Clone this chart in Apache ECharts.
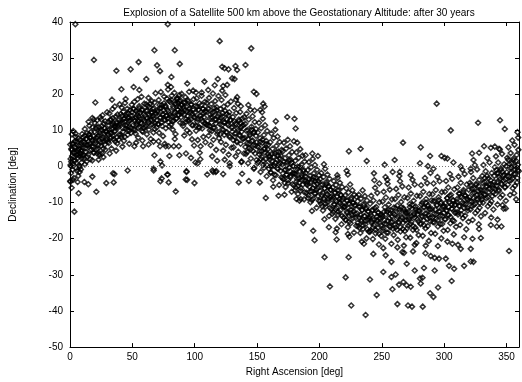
<!DOCTYPE html>
<html>
<head>
<meta charset="utf-8">
<title>Explosion of a Satellite</title>
<script src="https://cdn.jsdelivr.net/npm/echarts@6/dist/echarts.min.js"></script>
<style>
  html, body { margin: 0; padding: 0; background: #fff; }
  #chart { width: 522px; height: 382px; }
</style>
</head>
<body>
<div id="chart"></div>
<script>
// [right ascension deg, declination deg] in four quarters
var ra000to090 = [
    [0.5,2.1],[1.2,4.6],[0.8,-1.8],[1.9,6.3],[2.4,0.7],[2.8,3.9],[3.1,-3.2],[3.6,5.4],[4.0,1.6],[4.4,8.2],[4.9,-0.5],[5.3,3.1],[5.8,6.8],[6.2,2.4],[6.6,-2.6],[7.1,4.9],[7.5,0.2],[8.0,7.4],[8.4,3.6],[8.9,5.8],[9.3,1.1],[9.7,9.0],[0.3,-4.2],[1.5,8.9],[2.0,-0.9],[3.3,2.7],[4.7,5.1],[5.6,-1.2],[6.9,7.9],[8.7,-0.8],[9.5,4.4],[0.2,6.1],[2.6,9.8],[7.8,2.9],[1.0,1.3],[5.0,4.0],[9.0,6.5],[3.8,7.0],
    [4.3,39.4],[4.5,9.1],[0.2,-4.0],[2.4,-3.7],[1.3,-5.9],[6.1,-4.3],[6.9,-7.4],[3.5,-12.5],[7.7,-1.5],[0.8,0.1],[8.3,3.6],[10.4,2.9],
    [10.2,5.2],[10.6,8.1],[11.1,2.3],[11.5,6.7],[11.9,10.4],[12.4,4.0],[12.8,7.6],[13.3,1.4],[13.7,9.2],[14.1,5.9],[14.6,3.3],[15.0,8.7],[15.5,11.3],[15.9,6.2],[16.3,2.0],[16.8,9.6],[17.2,4.7],[17.6,7.3],[18.1,10.9],[18.5,5.5],[19.0,8.4],[19.4,3.8],[19.8,12.1],[12.0,0.6],[14.9,12.4],[17.9,1.7],[13.0,6.0],[16.0,7.9],
    [14.7,-4.9],[11.5,-4.3],[17.9,-2.8],[19.2,29.5],[20.3,17.7],[17.9,13.4],[19.0,13.0],
    [20.3,7.1],[20.8,10.5],[21.2,4.6],[21.7,12.8],[22.1,8.3],[22.6,5.9],[23.0,11.0],[23.5,3.2],[23.9,9.4],[24.3,13.6],[24.8,6.8],[25.2,10.1],[25.7,7.7],[26.1,14.2],[26.6,4.9],[27.0,11.8],[27.4,8.9],[27.9,6.1],[28.3,12.5],[28.8,9.8],[29.2,7.2],[29.7,15.0],[22.9,1.9],[26.8,2.6],[21.5,8.0],[25.0,13.0],[28.0,10.6],
    [21.1,-7.0],[29.1,-4.6],[21.7,3.6],[23.8,3.6],[25.7,3.6],
    [30.2,9.0],[30.6,12.4],[31.1,6.5],[31.5,14.7],[31.9,10.2],[32.4,7.8],[32.8,13.1],[33.3,5.0],[33.7,11.6],[34.1,15.9],[34.6,8.4],[35.0,12.0],[35.5,9.7],[35.9,16.6],[36.3,6.9],[36.8,13.8],[37.2,10.9],[37.7,8.1],[38.1,14.4],[38.6,11.3],[39.0,7.4],[39.5,12.9],[31.8,3.6],[37.0,4.4],[33.0,9.3],[36.0,11.4],[39.8,17.2],
    [33.7,18.5],[35.0,-4.4],[35.6,-2.1],[34.5,-1.9],[37.2,26.5],
    [40.2,11.8],[40.6,14.5],[41.1,8.2],[41.5,16.3],[41.9,12.1],[42.4,9.6],[42.8,15.2],[43.3,7.1],[43.7,13.4],[44.1,17.6],[44.6,10.5],[45.0,13.9],[45.5,11.2],[45.9,16.0],[46.3,8.8],[46.8,14.7],[47.2,12.6],[47.7,9.9],[48.1,15.6],[48.6,13.0],[49.0,10.7],[49.5,17.1],[42.0,5.5],[47.5,6.3],[44.0,12.4],[49.8,14.0],
    [41.2,21.4],[44.6,18.7],[46.2,-1.1],[48.6,26.9],
    [50.2,13.3],[50.7,16.0],[51.1,10.4],[51.6,17.9],[52.0,12.7],[52.5,9.1],[52.9,15.4],[53.3,11.6],[53.8,14.2],[54.2,18.6],[54.7,8.0],[55.1,13.8],[55.5,16.7],[56.0,11.0],[56.4,14.9],[56.9,12.2],[57.3,19.3],[57.8,9.8],[58.2,15.8],[58.6,13.1],[59.1,10.7],[59.5,17.4],[53.0,6.6],[58.0,7.2],[55.0,12.5],
    [51.0,22.0],[55.6,21.2],[55.0,28.9],[51.6,5.6],[58.6,5.6],[61.2,24.2],
    [60.2,14.1],[60.7,11.3],[61.1,17.2],[61.6,8.9],[62.0,15.5],[62.5,12.6],[62.9,19.0],[63.3,10.2],[63.8,16.4],[64.2,13.7],[64.7,7.6],[65.1,14.9],[65.5,18.1],[66.0,11.8],[66.4,15.9],[66.9,9.4],[67.3,13.2],[67.8,17.7],[68.2,12.0],[68.6,20.3],[69.1,14.6],[69.5,10.8],[63.0,6.1],[67.0,6.9],[65.0,13.0],
    [67.7,32.2],[69.8,28.0],[67.7,3.1],[67.1,-0.6],[67.1,-1.1],
    [70.2,15.0],[70.6,11.7],[71.1,18.4],[71.5,9.3],[72.0,16.2],[72.4,13.5],[72.8,20.6],[73.3,12.1],[73.7,17.0],[74.2,14.3],[74.6,8.4],[75.0,15.6],[75.5,19.4],[75.9,12.8],[76.4,16.9],[76.8,10.6],[77.2,14.0],[77.7,18.8],[78.1,13.2],[78.6,21.3],[79.0,15.3],[79.5,11.1],[71.0,7.0],[76.0,6.3],
    [72.2,26.4],[78.4,39.4],[78.4,22.6],[72.2,5.6],[76.7,5.6],[79.1,5.6],[79.7,2.9],[72.5,1.4],[73.8,0.3],[78.4,-2.2],[72.5,-4.1],[73.5,-3.3],[77.9,-2.2],[79.1,-4.4],
    [80.2,14.4],[80.6,17.8],[81.1,11.6],[81.5,19.6],[82.0,13.9],[82.4,10.2],[82.8,16.6],[83.3,12.7],[83.7,20.4],[84.2,15.1],[84.6,9.0],[85.0,17.3],[85.5,13.3],[85.9,19.0],[86.4,15.8],[86.8,17.5],[87.2,14.2],[87.7,19.8],[88.1,16.4],[88.6,18.3],[89.0,13.6],[89.5,20.1],[86.0,18.6],[88.0,15.0],[89.8,17.0],[84.0,7.6],[81.0,22.0],
    [84.0,32.2],[88.0,28.4],[81.3,24.8],[83.2,5.6],[87.2,5.6],[87.7,3.1],[84.8,-6.9]
];
var ra090to180 = [
    [90.2,14.9],[90.7,11.2],[91.1,17.7],[91.6,8.6],[92.0,15.6],[92.5,19.2],[92.9,12.3],[93.3,16.5],[93.8,10.0],[94.2,14.0],[94.7,18.0],[95.1,12.9],[95.5,20.7],[96.0,9.3],[96.4,15.3],[96.9,13.0],[97.3,17.1],[97.8,7.5],[98.2,14.6],[98.6,11.4],[99.1,18.6],[99.5,5.8],[93.0,3.6],[97.0,2.4],
    [93.4,-1.3],[92.8,-3.6],[99.8,-4.6],[93.9,-3.7],[93.4,-1.5],[94.0,23.0],[98.7,21.0],
    [100.2,13.5],[100.7,16.8],[101.1,9.9],[101.6,18.9],[102.0,12.4],[102.4,7.3],[102.9,15.7],[103.3,11.0],[103.8,17.5],[104.2,14.1],[104.7,5.6],[105.1,13.2],[105.5,19.6],[106.0,10.5],[106.4,16.0],[106.9,8.2],[107.3,14.8],[107.8,12.0],[108.2,17.9],[108.6,6.7],[109.1,15.1],[109.5,11.5],[104.0,3.8],[101.0,20.5],
    [100.6,1.1],[102.4,0.9],[105.6,20.5],[107.8,23.5],[110.8,21.2],[110.0,-2.2],[104.5,2.0],
    [110.2,12.6],[110.6,16.1],[111.1,8.5],[111.5,19.0],[112.0,11.2],[112.4,14.4],[112.8,5.9],[113.3,17.3],[113.7,9.8],[114.2,13.6],[114.6,20.2],[115.0,7.4],[115.5,15.2],[115.9,10.7],[116.4,18.1],[116.8,12.9],[117.2,4.6],[117.7,16.4],[118.1,9.0],[118.6,13.9],[119.0,19.5],[119.5,7.8],[114.0,2.8],[118.0,1.6],
    [114.2,-1.1],[116.7,-1.5],[114.8,-1.5],[117.4,-1.3],[118.5,24.2],[120.0,34.7],[116.0,22.5],
    [120.2,11.7],[120.6,15.9],[121.1,6.8],[121.5,18.4],[122.0,10.3],[122.4,13.8],[122.8,4.4],[123.3,16.6],[123.7,8.7],[124.2,12.2],[124.6,19.8],[125.0,6.0],[125.5,14.5],[125.9,9.5],[126.4,17.2],[126.8,11.4],[127.2,3.3],[127.7,15.0],[128.1,8.1],[128.6,12.9],[129.0,18.0],[129.5,5.2],[124.0,1.9],[128.0,0.9],[122.0,21.0],
    [122.0,27.6],[123.9,27.2],[127.1,26.9],[122.8,22.3],[126.0,22.6],[122.8,-2.1],[128.1,0.1],
    [130.2,9.6],[130.6,13.7],[131.1,5.3],[131.5,16.2],[132.0,8.2],[132.4,11.9],[132.8,2.8],[133.3,14.8],[133.7,7.0],[134.2,10.5],[134.6,17.4],[135.0,4.1],[135.5,12.6],[135.9,8.8],[136.4,15.1],[136.8,6.3],[137.2,10.9],[137.7,1.4],[138.1,13.3],[138.6,7.6],[139.0,11.5],[139.5,3.6],[133.0,18.5],[137.0,16.7],
    [130.0,24.4],[131.9,24.2],[132.7,27.8],[134.0,26.7],[134.0,19.2],[135.3,-4.4],[137.3,1.2],[138.0,-2.0],
    [140.2,7.9],[140.6,11.8],[141.1,3.5],[141.5,14.6],[142.0,6.4],[142.4,10.1],[142.8,0.9],[143.3,13.0],[143.7,5.1],[144.2,8.6],[144.6,15.7],[145.0,2.2],[145.5,11.0],[145.9,7.0],[146.4,13.9],[146.8,4.3],[147.2,9.3],[147.7,-0.4],[148.1,12.3],[148.6,5.8],[149.0,10.4],[149.5,1.8],[143.0,17.0],[148.0,15.5],
    [140.7,28.1],[145.3,32.7],[147.4,20.7],[149.5,20.1],[143.4,-4.0],[147.4,-0.6],
    [150.2,5.6],[150.6,9.4],[151.1,1.3],[151.5,12.1],[152.0,4.2],[152.4,7.8],[152.8,-1.5],[153.3,10.6],[153.7,2.7],[154.2,6.5],[154.6,13.2],[155.0,0.4],[155.5,8.7],[155.9,4.8],[156.4,11.4],[156.8,2.0],[157.2,7.1],[157.7,-2.7],[158.1,9.8],[158.6,3.5],[159.0,6.0],[159.5,-0.6],[154.0,15.0],
    [152.7,15.7],[154.9,17.4],[156.0,16.6],[152.2,-4.4],[155.4,-0.4],[157.0,-8.7],
    [160.2,2.8],[160.6,6.7],[161.1,-1.6],[161.5,9.1],[162.0,1.5],[162.4,4.9],[162.8,-3.8],[163.3,7.9],[163.7,0.3],[164.2,3.6],[164.6,10.2],[165.0,-2.4],[165.5,5.7],[165.9,1.9],[166.4,8.3],[166.8,-0.7],[167.2,4.1],[167.7,-5.1],[168.1,6.8],[168.6,0.9],[169.0,3.0],[169.5,-3.0],[163.0,-5.6],
    [160.8,0.1],[167.2,-8.1],[165.0,12.5],
    [170.2,0.6],[170.6,4.2],[171.1,-3.5],[171.5,6.6],[172.0,-1.0],[172.4,2.3],[172.8,-5.7],[173.3,5.0],[173.7,-2.2],[174.2,1.1],[174.6,7.4],[175.0,-4.6],[175.5,3.1],[175.9,-0.3],[176.4,5.6],[176.8,-3.0],[177.2,1.8],[177.7,-7.0],[178.1,4.0],[178.6,-1.9],[179.0,0.2],[179.5,-5.2],[172.0,-7.8],
    [174.2,13.7],[179.5,7.0]
];
var ra180to270 = [
    [180.2,-2.0],[180.6,1.6],[181.1,-5.8],[181.5,3.9],[182.0,-3.4],[182.4,-0.1],[182.8,-7.6],[183.3,2.4],[183.7,-4.5],[184.2,-1.3],[184.6,4.8],[185.0,-6.7],[185.5,0.5],[185.9,-2.9],[186.4,3.0],[186.8,-5.0],[187.2,-0.9],[187.7,-9.1],[188.1,1.4],[188.6,-3.9],[189.0,-1.8],[189.5,-7.3],[184.0,-9.5],
    [180.0,13.2],[180.9,10.5],[182.2,6.6],[188.9,3.1],[181.6,-9.0],[184.9,-9.0],[187.0,-15.6],
    [190.2,-4.3],[190.6,-1.0],[191.1,-8.0],[191.5,1.2],[192.0,-5.6],[192.4,-2.6],[192.8,-9.9],[193.3,-0.2],[193.7,-6.8],[194.2,-3.7],[194.6,2.1],[195.0,-8.9],[195.5,-1.9],[195.9,-5.1],[196.4,0.4],[196.8,-7.4],[197.2,-3.2],[197.7,-11.4],[198.1,-0.9],[198.6,-6.1],[199.0,-4.0],[199.5,-9.5],[194.0,-12.3],
    [194.3,3.6],[198.8,2.9],[195.0,-17.8],[196.1,-20.4],
    [200.2,-6.7],[200.6,-3.5],[201.1,-10.3],[201.5,-1.8],[202.0,-8.0],[202.4,-5.0],[202.8,-12.2],[203.3,-2.9],[203.7,-9.1],[204.2,-6.1],[204.6,-0.6],[205.0,-11.1],[205.5,-4.3],[205.9,-7.5],[206.4,-2.2],[206.8,-9.8],[207.2,-5.6],[207.7,-13.7],[208.1,-3.4],[208.6,-8.5],[209.0,-6.4],[209.5,-11.8],[204.0,-14.6],
    [203.6,0.6],[204.1,-25.1],[207.6,-16.8],[208.4,-33.2],
    [210.2,-9.1],[210.6,-5.8],[211.1,-12.6],[211.5,-4.0],[212.0,-10.4],[212.4,-7.3],[212.8,-14.5],[213.3,-5.1],[213.7,-11.4],[214.2,-8.4],[214.6,-3.1],[215.0,-13.4],[215.5,-6.6],[215.9,-9.8],[216.4,-4.5],[216.8,-12.1],[217.2,-8.0],[217.7,-16.0],[218.1,-5.7],[218.6,-10.9],[219.0,-8.7],[219.5,-14.1],[214.0,-17.2],
    [214.3,-2.4],[213.0,-18.2],[213.8,-20.2],
    [220.2,-11.2],[220.6,-8.0],[221.1,-14.9],[221.5,-6.1],[222.0,-12.5],[222.4,-9.4],[222.8,-16.8],[223.3,-7.2],[223.7,-13.6],[224.2,-10.4],[224.6,-5.0],[225.0,-15.7],[225.5,-8.6],[225.9,-12.0],[226.4,-6.6],[226.8,-14.3],[227.2,-10.1],[227.7,-18.3],[228.1,-7.8],[228.6,-13.1],[229.0,-10.8],[229.5,-16.4],[224.0,-19.4],
    [221.8,-1.2],[222.8,-2.2],[223.6,4.2],[221.0,-30.7],[223.4,-25.1],[225.5,-38.5],[222.8,-18.7],
    [230.2,-13.0],[230.6,-9.6],[231.1,-16.5],[231.5,-7.8],[232.0,-14.1],[232.4,-11.1],[232.8,-18.4],[233.3,-8.9],[233.7,-15.2],[234.2,-12.0],[234.6,-6.6],[235.0,-17.3],[235.5,-10.3],[235.9,-13.7],[236.4,-8.2],[236.8,-16.0],[237.2,-11.8],[237.7,-19.9],[238.1,-9.4],[238.6,-14.7],[239.0,-12.4],[239.5,-18.0],[234.0,-20.8],
    [233.0,4.9],[237.9,1.5],[235.7,-21.4],[237.0,-41.1],[240.5,-31.3],
    [240.2,-14.0],[240.6,-10.3],[241.1,-17.7],[241.5,-8.1],[242.0,-15.2],[242.4,-12.0],[242.8,-20.1],[243.3,-9.4],[243.7,-16.3],[244.2,-13.1],[244.6,-5.9],[245.0,-18.5],[245.5,-11.2],[245.9,-14.8],[246.4,-7.3],[246.8,-17.0],[247.2,-12.7],[247.7,-21.6],[248.1,-9.9],[248.6,-15.6],[249.0,-13.3],[249.5,-19.2],[244.0,-3.8],[248.0,-4.7],
    [243.7,-1.9],[243.2,-24.2],[245.9,-35.6],
    [250.2,-13.6],[250.6,-9.7],[251.1,-17.2],[251.5,-7.0],[252.0,-14.8],[252.4,-11.3],[252.8,-20.0],[253.3,-8.6],[253.7,-16.0],[254.2,-12.5],[254.6,-4.8],[255.0,-18.3],[255.5,-10.5],[255.9,-14.3],[256.4,-6.4],[256.8,-16.8],[257.2,-12.1],[257.7,-21.4],[258.1,-9.1],[258.6,-15.3],[259.0,-13.0],[259.5,-19.0],[253.0,-2.9],
    [252.3,0.5],[254.4,-3.7],[258.7,-1.5],[251.2,-22.6],[253.1,-24.6],[257.7,-26.4],[251.2,-29.2],[257.7,-30.6],[258.5,-34.0],
    [260.2,-13.2],[260.6,-9.0],[261.1,-16.9],[261.5,-6.2],[262.0,-14.4],[262.4,-10.8],[262.8,-20.3],[263.3,-7.9],[263.7,-15.6],[264.2,-12.0],[264.6,-4.1],[265.0,-18.0],[265.5,-9.8],[265.9,-13.9],[266.4,-5.5],[266.8,-17.3],[267.2,-11.5],[267.7,-21.9],[268.1,-8.5],[268.6,-14.9],[269.0,-12.6],[269.5,-19.6],[264.0,-2.6],
    [260.3,1.8],[264.5,-1.5],[267.0,6.6],[262.5,-22.4],[266.5,-23.7],[267.8,-23.9],[261.1,-29.9],[267.3,-32.0],[263.8,-32.7],[269.9,-32.9],[262.5,-38.1]
];
var ra270to360 = [
    [270.2,-12.9],[270.6,-8.7],[271.1,-16.4],[271.5,-5.8],[272.0,-14.0],[272.4,-10.4],[272.8,-19.7],[273.3,-7.5],[273.7,-15.3],[274.2,-11.7],[274.6,-3.7],[275.0,-17.6],[275.5,-9.5],[275.9,-13.4],[276.4,-5.0],[276.8,-16.9],[277.2,-11.1],[277.7,-21.2],[278.1,-8.1],[278.6,-14.6],[279.0,-12.3],[279.5,-19.0],[275.0,-23.5],
    [270.0,-26.9],[273.2,-2.4],[276.4,-21.7],[273.2,-33.3],[271.0,-38.5],[274.2,-38.8],[276.4,-28.8],
    [280.2,-12.4],[280.6,-8.2],[281.1,-16.0],[281.5,-5.2],[282.0,-13.6],[282.4,-10.0],[282.8,-19.2],[283.3,-7.0],[283.7,-14.9],[284.2,-11.3],[284.6,-3.2],[285.0,-17.1],[285.5,-9.0],[285.9,-13.0],[286.4,-4.6],[286.8,-16.5],[287.2,-10.7],[287.7,-20.6],[288.1,-7.6],[288.6,-14.2],[289.0,-11.9],[289.5,-18.4],[285.0,-24.0],[289.0,-1.8],
    [281.2,5.3],[288.7,2.9],[280.6,0.9],[287.0,0.1],[285.2,-21.9],[289.2,-24.8],[281.2,-32.4],[280.6,-31.0],[282.6,-30.8],[283.8,-28.1],[288.7,-35.1],[282.8,-38.8],
    [290.2,-11.8],[290.6,-7.7],[291.1,-15.4],[291.5,-4.7],[292.0,-13.1],[292.4,-9.5],[292.8,-18.6],[293.3,-6.5],[293.7,-14.4],[294.2,-10.8],[294.6,-2.9],[295.0,-16.6],[295.5,-8.5],[295.9,-12.5],[296.4,-4.1],[296.8,-15.9],[297.2,-10.2],[297.7,-19.9],[298.1,-7.1],[298.6,-13.7],[299.0,-11.3],[299.5,-17.8],[295.0,-22.0],
    [294.0,17.4],[297.8,2.9],[291.4,-0.6],[292.4,-25.3],[295.9,-25.5],[291.4,-36.1],[295.1,-33.5],[292.4,-28.8],
    [300.2,-11.0],[300.6,-7.0],[301.1,-14.6],[301.5,-4.0],[302.0,-12.3],[302.4,-8.8],[302.8,-17.6],[303.3,-5.8],[303.7,-13.5],[304.2,-10.0],[304.6,-2.1],[305.0,-15.7],[305.5,-7.8],[305.9,-11.7],[306.4,-3.4],[306.8,-14.9],[307.2,-9.4],[307.7,-18.8],[308.1,-6.3],[308.6,-12.8],[309.0,-10.5],[309.5,-16.7],
    [305.3,10.0],[300.4,2.4],[302.6,2.2],[307.4,1.1],[301.3,-25.5],[302.6,-20.8],[306.6,-21.4],[303.9,-27.5],[308.0,-28.3],[306.0,-31.7],
    [310.2,-9.8],[310.6,-5.8],[311.1,-13.3],[311.5,-2.8],[312.0,-11.0],[312.4,-7.5],[312.8,-16.2],[313.3,-4.5],[313.7,-12.1],[314.2,-8.6],[314.6,-0.9],[315.0,-14.3],[315.5,-6.5],[315.9,-10.3],[316.4,-2.1],[316.8,-13.6],[317.2,-8.1],[317.7,-17.4],[318.1,-5.0],[318.6,-11.5],[319.0,-9.2],[319.5,-15.3],
    [313.3,0.0],[311.1,-21.7],[313.3,-22.8],[316.0,-19.6],[316.0,-27.5],
    [320.2,-8.5],[320.6,-4.5],[321.1,-11.9],[321.5,-1.5],[322.0,-9.6],[322.4,-6.2],[322.8,-14.8],[323.3,-3.2],[323.7,-10.7],[324.2,-7.3],[324.6,0.4],[325.0,-12.9],[325.5,-5.2],[325.9,-9.0],[326.4,-0.8],[326.8,-12.2],[327.2,-6.8],[327.7,-16.0],[328.1,-3.7],[328.6,-10.1],[329.0,-7.9],[329.5,-13.8],
    [327.2,12.1],[322.4,3.6],[328.0,3.8],[323.5,1.8],[321.3,-0.6],[321.3,-22.8],[322.7,-20.0],[329.4,-19.8],[328.0,-17.3],[321.3,-26.3],[323.5,-26.4],
    [330.2,-6.6],[330.6,-2.6],[331.1,-10.0],[331.5,0.4],[332.0,-7.7],[332.4,-4.3],[332.8,-12.9],[333.3,-1.3],[333.7,-8.8],[334.2,-5.4],[334.6,2.3],[335.0,-11.0],[335.5,-3.3],[335.9,-7.1],[336.4,1.1],[336.8,-10.3],[337.2,-4.9],[337.7,-14.1],[338.1,-1.8],[338.6,-8.2],[339.0,-6.0],[339.5,-11.9],
    [332.0,5.6],[337.4,5.2],[337.4,-16.2],
    [340.2,-4.2],[340.6,-0.2],[341.1,-7.6],[341.5,2.8],[342.0,-5.3],[342.4,-1.9],[342.8,-10.5],[343.3,1.1],[343.7,-6.4],[344.2,-3.0],[344.6,4.7],[345.0,-8.6],[345.5,-0.9],[345.9,-4.7],[346.4,3.5],[346.8,-7.9],[347.2,-2.5],[347.7,-11.7],[348.1,0.6],[348.6,-5.8],[349.0,-3.6],[349.5,-9.5],
    [344.8,12.8],[348.6,10.4],[340.6,5.5],[344.0,4.9],[342.2,-16.6],[345.9,-16.6],[342.8,-14.7],[346.8,-10.7],[349.4,-11.6],
    [350.2,-1.6],[350.6,2.4],[351.1,-5.0],[351.5,5.3],[352.0,-2.7],[352.4,0.7],[352.8,-7.9],[353.3,3.7],[353.7,-3.8],[354.2,-0.4],[354.6,7.2],[355.0,-6.0],[355.5,1.7],[355.9,-2.1],[356.4,6.0],[356.8,-5.3],[357.2,0.1],[357.7,-9.1],[358.1,3.2],[358.6,-3.2],[359.0,-1.0],[359.5,4.6],[359.3,8.0],
    [358.8,9.5],[352.0,-23.4],[356.1,-7.4]
];
// the darkest part of the band, where the diamonds overlap
var core000to180 = [
    [0.4,0.4],[1.1,4.9],[1.7,2.9],[2.5,6.3],[3.0,1.6],[3.8,3.8],[4.4,6.9],[5.1,1.0],[5.9,4.5],[6.3,3.3],[7.2,5.7],[7.9,-0.1],[8.6,4.3],[9.4,2.3],
    [10.2,6.9],[10.9,3.3],[11.8,8.5],[12.3,5.1],[13.3,7.7],[13.9,2.7],[14.8,6.0],[15.4,9.0],[16.1,4.5],[16.8,8.0],[17.5,5.6],[18.1,7.2],[18.9,3.8],[19.7,9.6],
    [20.6,6.4],[21.3,10.9],[22.1,5.0],[22.8,8.6],[23.5,7.2],[24.2,9.9],[24.9,5.7],[25.6,11.2],[26.5,8.2],[27.0,6.9],[27.7,10.6],[28.4,4.6],[29.1,9.5],[29.8,7.7],
    [30.4,6.9],[31.1,11.4],[31.7,9.4],[32.5,12.8],[33.0,8.1],[33.8,10.3],[34.4,13.4],[35.1,7.5],[35.9,11.0],[36.3,9.8],[37.2,12.2],[37.9,6.4],[38.6,10.8],[39.4,8.8],
    [40.2,12.4],[40.9,8.8],[41.8,14.0],[42.3,10.6],[43.3,13.2],[43.9,8.2],[44.8,11.5],[45.4,14.5],[46.1,10.0],[46.8,13.5],[47.5,11.1],[48.1,12.7],[48.9,9.3],[49.7,15.1],
    [50.6,11.4],[51.3,15.9],[52.1,10.0],[52.8,13.6],[53.5,12.2],[54.2,14.9],[54.9,10.7],[55.6,16.2],[56.5,13.2],[57.0,11.9],[57.7,15.6],[58.4,9.6],[59.1,14.5],[59.8,12.7],
    [60.4,10.9],[61.1,15.4],[61.7,13.4],[62.5,16.8],[63.0,12.1],[63.8,14.3],[64.4,17.4],[65.1,11.5],[65.9,15.0],[66.3,13.8],[67.2,16.2],[67.9,10.4],[68.6,14.8],[69.4,12.8],
    [70.2,15.4],[70.9,11.8],[71.8,17.0],[72.3,13.6],[73.3,16.2],[73.9,11.2],[74.8,14.5],[75.4,17.5],[76.1,13.0],[76.8,16.5],[77.5,14.1],[78.1,15.7],[78.9,12.3],[79.7,18.1],
    [80.6,13.9],[81.3,18.4],[82.1,12.5],[82.8,16.1],[83.5,14.7],[84.2,17.4],[84.9,13.2],[85.6,18.7],[86.5,15.7],[87.0,14.4],[87.7,18.1],[88.4,12.1],[89.1,17.0],[89.8,15.2],
    [90.4,11.9],[91.1,16.4],[91.7,14.4],[92.5,17.8],[93.0,13.1],[93.8,15.3],[94.4,18.4],[95.1,12.5],[95.9,16.0],[96.3,14.8],[97.2,17.2],[97.9,11.4],[98.6,15.8],[99.4,13.8],
    [100.2,14.9],[100.9,11.3],[101.8,16.5],[102.3,13.1],[103.3,15.7],[103.9,10.7],[104.8,14.0],[105.4,17.0],[106.1,12.5],[106.8,16.0],[107.5,13.6],[108.1,15.2],[108.9,11.8],[109.7,17.6],
    [110.6,11.4],[111.3,15.9],[112.1,10.0],[112.8,13.6],[113.5,12.2],[114.2,14.9],[114.9,10.7],[115.6,16.2],[116.5,13.2],[117.0,11.9],[117.7,15.6],[118.4,9.6],[119.1,14.5],[119.8,12.7],
    [120.4,8.9],[121.1,13.4],[121.7,11.4],[122.5,14.8],[123.0,10.1],[123.8,12.3],[124.4,15.4],[125.1,9.5],[125.9,13.0],[126.3,11.8],[127.2,14.2],[127.9,8.4],[128.6,12.8],[129.4,10.8],
    [130.2,10.9],[130.9,7.3],[131.8,12.5],[132.3,9.1],[133.3,11.7],[133.9,6.7],[134.8,10.0],[135.4,13.0],[136.1,8.5],[136.8,12.0],[137.5,9.6],[138.1,11.2],[138.9,7.8],[139.7,13.6],
    [140.6,5.4],[141.3,9.9],[142.1,4.0],[142.8,7.6],[143.5,6.2],[144.2,8.9],[144.9,4.7],[145.6,10.2],[146.5,7.2],[147.0,5.9],[147.7,9.6],[148.4,3.6],[149.1,8.5],[149.8,6.7],
    [150.4,0.9],[151.1,5.4],[151.7,3.4],[152.5,6.8],[153.0,2.1],[153.8,4.3],[154.4,7.4],[155.1,1.5],[155.9,5.0],[156.3,3.8],[157.2,6.2],[157.9,0.4],[158.6,4.8],[159.4,2.8],
    [160.2,1.9],[160.9,-1.7],[161.8,3.5],[162.3,0.1],[163.3,2.7],[163.9,-2.3],[164.8,1.0],[165.4,4.0],[166.1,-0.5],[166.8,3.0],[167.5,0.6],[168.1,2.2],[168.9,-1.2],[169.7,4.6],
    [170.6,-3.1],[171.3,1.4],[172.1,-4.5],[172.8,-0.9],[173.5,-2.3],[174.2,0.4],[174.9,-3.8],[175.6,1.7],[176.5,-1.3],[177.0,-2.6],[177.7,1.1],[178.4,-4.9],[179.1,0.0],[179.8,-1.8]
];
var core180to360 = [
    [180.4,-6.6],[181.1,-2.1],[181.7,-4.1],[182.5,-0.7],[183.0,-5.4],[183.8,-3.2],[184.4,-0.1],[185.1,-6.0],[185.9,-2.5],[186.3,-3.7],[187.2,-1.3],[187.9,-7.1],[188.6,-2.7],[189.4,-4.7],
    [190.2,-5.1],[190.9,-8.7],[191.8,-3.5],[192.3,-6.9],[193.3,-4.3],[193.9,-9.3],[194.8,-6.0],[195.4,-3.0],[196.1,-7.5],[196.8,-4.0],[197.5,-6.4],[198.1,-4.8],[198.9,-8.2],[199.7,-2.4],
    [200.6,-9.6],[201.3,-5.1],[202.1,-11.0],[202.8,-7.4],[203.5,-8.8],[204.2,-6.1],[204.9,-10.3],[205.6,-4.8],[206.5,-7.8],[207.0,-9.1],[207.7,-5.4],[208.4,-11.4],[209.1,-6.5],[209.8,-8.3],
    [210.4,-13.1],[211.1,-8.6],[211.7,-10.6],[212.5,-7.2],[213.0,-11.9],[213.8,-9.7],[214.4,-6.6],[215.1,-12.5],[215.9,-9.0],[216.3,-10.2],[217.2,-7.8],[217.9,-13.6],[218.6,-9.2],[219.4,-11.2],
    [220.2,-11.1],[220.9,-14.7],[221.8,-9.5],[222.3,-12.9],[223.3,-10.3],[223.9,-15.3],[224.8,-12.0],[225.4,-9.0],[226.1,-13.5],[226.8,-10.0],[227.5,-12.4],[228.1,-10.8],[228.9,-14.2],[229.7,-8.4],
    [230.6,-15.6],[231.3,-11.1],[232.1,-17.0],[232.8,-13.4],[233.5,-14.8],[234.2,-12.1],[234.9,-16.3],[235.6,-10.8],[236.5,-13.8],[237.0,-15.1],[237.7,-11.4],[238.4,-17.4],[239.1,-12.5],[239.8,-14.3],
    [240.4,-18.1],[241.1,-13.6],[241.7,-15.6],[242.5,-12.2],[243.0,-16.9],[243.8,-14.7],[244.4,-11.6],[245.1,-17.5],[245.9,-14.0],[246.3,-15.2],[247.2,-12.8],[247.9,-18.6],[248.6,-14.2],[249.4,-16.2],
    [250.2,-14.1],[250.9,-17.7],[251.8,-12.5],[252.3,-15.9],[253.3,-13.3],[253.9,-18.3],[254.8,-15.0],[255.4,-12.0],[256.1,-16.5],[256.8,-13.0],[257.5,-15.4],[258.1,-13.8],[258.9,-17.2],[259.7,-11.4],
    [260.6,-16.1],[261.3,-11.6],[262.1,-17.5],[262.8,-13.9],[263.5,-15.3],[264.2,-12.6],[264.9,-16.8],[265.6,-11.3],[266.5,-14.3],[267.0,-15.6],[267.7,-11.9],[268.4,-17.9],[269.1,-13.0],[269.8,-14.8],
    [270.4,-17.1],[271.1,-12.6],[271.7,-14.6],[272.5,-11.2],[273.0,-15.9],[273.8,-13.7],[274.4,-10.6],[275.1,-16.5],[275.9,-13.0],[276.3,-14.2],[277.2,-11.8],[277.9,-17.6],[278.6,-13.2],[279.4,-15.2],
    [280.2,-12.1],[280.9,-15.7],[281.8,-10.5],[282.3,-13.9],[283.3,-11.3],[283.9,-16.3],[284.8,-13.0],[285.4,-10.0],[286.1,-14.5],[286.8,-11.0],[287.5,-13.4],[288.1,-11.8],[288.9,-15.2],[289.7,-9.4],
    [290.6,-14.1],[291.3,-9.6],[292.1,-15.5],[292.8,-11.9],[293.5,-13.3],[294.2,-10.6],[294.9,-14.8],[295.6,-9.3],[296.5,-12.3],[297.0,-13.6],[297.7,-9.9],[298.4,-15.9],[299.1,-11.0],[299.8,-12.8],
    [300.4,-14.6],[301.1,-10.1],[301.7,-12.1],[302.5,-8.7],[303.0,-13.4],[303.8,-11.2],[304.4,-8.1],[305.1,-14.0],[305.9,-10.5],[306.3,-11.7],[307.2,-9.3],[307.9,-15.1],[308.6,-10.7],[309.4,-12.7],
    [310.2,-9.1],[310.9,-12.7],[311.8,-7.5],[312.3,-10.9],[313.3,-8.3],[313.9,-13.3],[314.8,-10.0],[315.4,-7.0],[316.1,-11.5],[316.8,-8.0],[317.5,-10.4],[318.1,-8.8],[318.9,-12.2],[319.7,-6.4],
    [320.6,-9.6],[321.3,-5.1],[322.1,-11.0],[322.8,-7.4],[323.5,-8.8],[324.2,-6.1],[324.9,-10.3],[325.6,-4.8],[326.5,-7.8],[327.0,-9.1],[327.7,-5.4],[328.4,-11.4],[329.1,-6.5],[329.8,-8.3],
    [330.4,-9.1],[331.1,-4.6],[331.7,-6.6],[332.5,-3.2],[333.0,-7.9],[333.8,-5.7],[334.4,-2.6],[335.1,-8.5],[335.9,-5.0],[336.3,-6.2],[337.2,-3.8],[337.9,-9.6],[338.6,-5.2],[339.4,-7.2],
    [340.2,-2.6],[340.9,-6.2],[341.8,-1.0],[342.3,-4.4],[343.3,-1.8],[343.9,-6.8],[344.8,-3.5],[345.4,-0.5],[346.1,-5.0],[346.8,-1.5],[347.5,-3.9],[348.1,-2.3],[348.9,-5.7],[349.7,0.1],
    [350.6,-2.6],[351.3,1.9],[352.1,-4.0],[352.8,-0.4],[353.5,-1.8],[354.2,0.9],[354.9,-3.3],[355.6,2.2],[356.5,-0.8],[357.0,-2.1],[357.7,1.6],[358.4,-4.4],[359.1,0.5],[359.8,-1.3]
];

var xTicks = { min: 0, max: 360, step: 50 };
var yTicks = { min: -50, max: 40, step: 10 };

var font = '"Liberation Sans", Arial, Helvetica, sans-serif';
var points = ra000to090.concat(ra090to180, ra180to270, ra270to360, core000to180, core180to360);

var myChart = echarts.init(document.getElementById('chart'), null, { renderer: 'canvas' });

function mirrorAxis(pos, ticks) {
    return {
        type: 'value',
        position: pos,
        min: ticks.min,
        max: ticks.max,
        interval: ticks.step,
        axisLine: { show: true, onZero: false, lineStyle: { color: '#000', width: 1 } },
        axisTick: { show: true, inside: true, length: 4, lineStyle: { color: '#000' } },
        axisLabel: { show: false },
        splitLine: { show: false }
    };
}

myChart.setOption({
    animation: false,
    backgroundColor: '#fff',
    title: {
        text: 'Explosion of a Satellite 500 km above the Geostationary Altitude: after 30 years',
        left: 294,
        top: 3,
        textAlign: 'center',
        textStyle: { fontFamily: font, fontSize: 10, fontWeight: 'normal', color: '#000' }
    },
    grid: { left: 70, right: 3, top: 22, bottom: 33 },
    xAxis: [{
        type: 'value',
        position: 'bottom',
        min: xTicks.min,
        max: xTicks.max,
        interval: xTicks.step,
        name: 'Right Ascension [deg]',
        nameLocation: 'middle',
        nameGap: 14,
        nameTextStyle: { fontFamily: font, fontSize: 10, color: '#000' },
        axisLine: { show: true, onZero: false, lineStyle: { color: '#000', width: 1 } },
        axisTick: { show: true, inside: true, length: 4, lineStyle: { color: '#000' } },
        axisLabel: { showMaxLabel: false, margin: 5, fontFamily: font, fontSize: 10, color: '#000' },
        splitLine: { show: false }
    }, mirrorAxis('top', xTicks)],
    yAxis: [{
        type: 'value',
        position: 'left',
        min: yTicks.min,
        max: yTicks.max,
        interval: yTicks.step,
        name: 'Declination [deg]',
        nameLocation: 'middle',
        nameGap: 52,
        nameTextStyle: { fontFamily: font, fontSize: 10, color: '#000' },
        axisLine: { show: true, onZero: false, lineStyle: { color: '#000', width: 1 } },
        axisTick: { show: true, inside: true, length: 4, lineStyle: { color: '#000' } },
        axisLabel: { margin: 7, fontFamily: font, fontSize: 10, color: '#000' },
        splitLine: { show: false }
    }, mirrorAxis('right', yTicks)],
    series: [{
        type: 'scatter',
        xAxisIndex: 0,
        yAxisIndex: 0,
        data: points,
        symbol: 'diamond',
        symbolSize: 5,
        large: false,
        itemStyle: { color: 'rgba(0,0,0,0)', borderColor: '#000', borderWidth: 1.5 },
        emphasis: { disabled: true },
        markLine: {
            silent: true,
            symbol: ['none', 'none'],
            label: { show: false },
            lineStyle: { color: '#777', type: [1, 2], width: 1 },
            data: [{ yAxis: 0 }]
        }
    }]
});
</script>
</body>
</html>
